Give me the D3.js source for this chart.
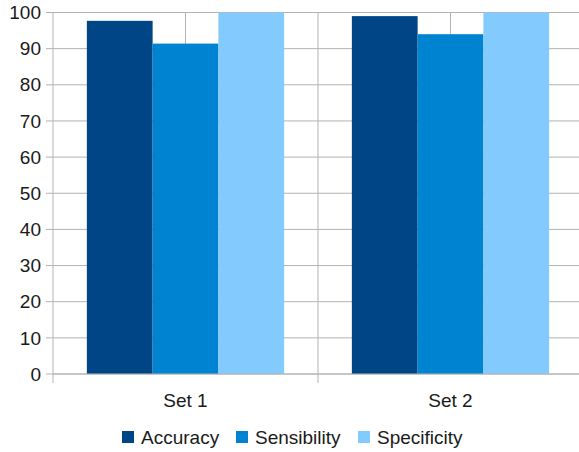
<!DOCTYPE html>
<html>
<head>
<meta charset="utf-8">
<script src="https://cdn.jsdelivr.net/npm/d3@7"></script>
<style>
  body { margin: 0; background: #fff; }
  text { font-family: "Liberation Sans", Arial, sans-serif; fill: #1a1a1a; }
</style>
</head>
<body>
<div id="chart"></div>
<script>
const categories = ['Set 1', 'Set 2'];
const seriesNames = ['Accuracy', 'Sensibility', 'Specificity'];
const accuracy = [97.7, 99.0];
const sensibility = [91.4, 94.0];
const specificity = [100, 100];
const yTicks = [0, 10, 20, 30, 40, 50, 60, 70, 80, 90, 100];
const colors = ['#004586', '#0084d1', '#83caff'];

const seriesValues = [accuracy, sensibility, specificity];

const W = 579, H = 452;
const margin = { top: 12.5, left: 53, bottom: 78, right: -4 };
const width = W - margin.left - margin.right;
const height = H - margin.top - margin.bottom;
const fontSize = 19;

const svg = d3.select('#chart')
  .append('svg')
  .attr('width', W)
  .attr('height', H);

const g = svg.append('g')
  .attr('transform', `translate(${margin.left}, ${margin.top})`);

const scaleX = d3.scaleBand()
  .domain(categories)
  .range([0, width]);

const scaleSeries = d3.scaleBand()
  .domain(seriesNames)
  .range([0, scaleX.bandwidth()])
  .paddingOuter(0.515)
  .paddingInner(0);

const scaleY = d3.scaleLinear()
  .domain([0, 100])
  .range([height, 0]);

// horizontal grid + left ticks
g.append('g')
  .selectAll('line')
  .data(yTicks)
  .join('line')
  .attr('x1', -7).attr('x2', width)
  .attr('y1', d => scaleY(d)).attr('y2', d => scaleY(d))
  .attr('stroke', '#b3b3b3');

// vertical grid at category centres and boundaries
const vLines = [];
categories.forEach(c => {
  vLines.push(scaleX(c));
  vLines.push(scaleX(c) + scaleX.bandwidth() / 2);
});
vLines.push(width);
g.append('g')
  .selectAll('line')
  .data(vLines)
  .join('line')
  .attr('x1', d => d).attr('x2', d => d)
  .attr('y1', 0).attr('y2', height)
  .attr('stroke', '#b3b3b3');

// bars
const groups = g.append('g')
  .selectAll('g')
  .data(categories)
  .join('g')
  .attr('transform', d => `translate(${scaleX(d)},0)`);

groups.selectAll('rect')
  .data((c, i) => seriesNames.map((s, j) => ({ s, v: seriesValues[j][i], color: colors[j] })))
  .join('rect')
  .attr('x', d => scaleSeries(d.s))
  .attr('width', scaleSeries.bandwidth())
  .attr('y', d => scaleY(d.v))
  .attr('height', d => height - scaleY(d.v))
  .attr('fill', d => d.color);

// y labels
g.append('g')
  .selectAll('text')
  .data(yTicks)
  .join('text')
  .attr('x', -12)
  .attr('y', d => scaleY(d))
  .attr('dy', '0.35em')
  .attr('text-anchor', 'end')
  .attr('font-size', fontSize)
  .text(d => d);

// x axis
const xAxis = g.append('g').attr('transform', `translate(0, ${height})`);
xAxis.append('line')
  .attr('x1', 0).attr('x2', width)
  .attr('stroke', '#b3b3b3');
xAxis.selectAll('line.tk')
  .data(categories.map(c => scaleX(c)).concat([width]))
  .join('line')
  .attr('class', 'tk')
  .attr('x1', d => d).attr('x2', d => d)
  .attr('y1', 0).attr('y2', 9)
  .attr('stroke', '#b3b3b3');
xAxis.selectAll('text')
  .data(categories)
  .join('text')
  .attr('x', d => scaleX(d) + scaleX.bandwidth() / 2)
  .attr('y', 33)
  .attr('text-anchor', 'middle')
  .attr('font-size', fontSize)
  .text(d => d);

// legend
const legendX = [122, 236, 358];
const legend = svg.append('g')
  .selectAll('g')
  .data(seriesNames)
  .join('g')
  .attr('transform', (d, i) => `translate(${legendX[i]}, 431)`);
legend.append('rect')
  .attr('width', 12).attr('height', 12)
  .attr('fill', (d, i) => colors[i]);
legend.append('text')
  .attr('x', 19)
  .attr('y', 13)
  .attr('font-size', fontSize)
  .text(d => d);
</script>
</body>
</html>
